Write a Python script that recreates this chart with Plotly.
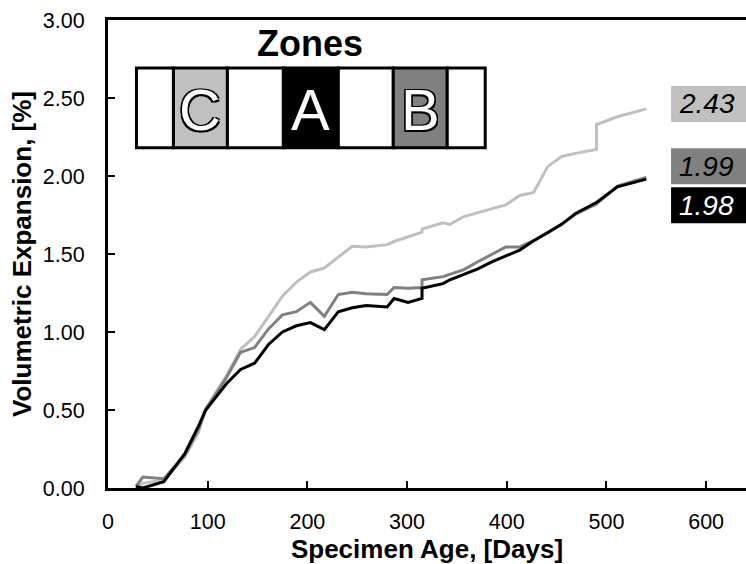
import plotly.graph_objects as go

# Measurement ages (days); repeated ages mark same-day re-measurements
days = [28, 35, 56, 77, 91, 98, 119, 133, 147, 161, 175, 189, 203, 217, 231, 245,
        259, 280, 287, 301, 315, 315, 336, 343, 357, 371, 385, 399, 413, 427, 441,
        455, 469, 490, 490, 511, 540]

# Volumetric expansion (%) per zone
zone_a = [0.01, 0.00, 0.04, 0.22, 0.40, 0.50, 0.67, 0.76, 0.80, 0.92, 1.00, 1.04,
          1.06, 1.015, 1.13, 1.155, 1.17, 1.16, 1.215, 1.19, 1.215, 1.28, 1.31,
          1.335, 1.37, 1.405, 1.45, 1.49, 1.525, 1.585, 1.64, 1.69, 1.76, 1.83,
          1.83, 1.93, 1.98]
zone_b = [0.01, 0.07, 0.06, 0.21, 0.38, 0.50, 0.71, 0.87, 0.90, 1.02, 1.11, 1.13,
          1.19, 1.10, 1.24, 1.255, 1.245, 1.24, 1.285, 1.28, 1.285, 1.335, 1.355,
          1.37, 1.40, 1.45, 1.50, 1.545, 1.545, 1.585, 1.635, 1.69, 1.755, 1.82,
          1.82, 1.935, 1.99]
zone_c = [0.01, 0.03, 0.05, 0.20, 0.36, 0.51, 0.72, 0.89, 0.97, 1.10, 1.23, 1.32,
          1.385, 1.41, 1.48, 1.55, 1.545, 1.56, 1.58, 1.61, 1.64, 1.66, 1.70, 1.69,
          1.74, 1.765, 1.79, 1.815, 1.875, 1.895, 2.06, 2.125, 2.145, 2.17, 2.33,
          2.38, 2.43]

series = [
    ("C", zone_c, "#c0c0c0", "black"),
    ("B", zone_b, "#808080", "black"),
    ("A", zone_a, "#000000", "white"),
]

y_ticks = [0, 0.5, 1.0, 1.5, 2.0, 2.5, 3.0]
y_tick_text = ["0.00", "0.50", "1.00", "1.50", "2.00", "2.50", "3.00"]
x_ticks = [0, 100, 200, 300, 400, 500, 600]

FONT = "Liberation Sans, Arial, sans-serif"
W, H = 746, 564
ML, MR, MT, MB = 107.5, 0, 20, 75.5
PW, PH = W - ML - MR, H - MT - MB


def px(xp):
    return (xp - ML) / PW


def py(yp):
    return (H - MB - yp) / PH


fig = go.Figure()
for name, vals, color, _ in series:
    fig.add_trace(go.Scatter(x=days, y=vals, mode="lines", name=name,
                             line=dict(color=color, width=3), showlegend=False))

shapes = []
annotations = []

# Final-value tags at the right edge
tag_centres = {"C": 104, "B": 166.5, "A": 205.5}
for name, vals, color, txt_color in series:
    yc = tag_centres[name]
    shapes.append(dict(type="rect", xref="paper", yref="paper",
                       x0=px(671), x1=1.0, y0=py(yc + 18), y1=py(yc - 18),
                       fillcolor=color, line=dict(width=0), layer="above"))
    annotations.append(dict(
        x=px(677), y=py(yc), xref="paper", yref="paper",
        xanchor="left", yanchor="middle", text=f"{vals[-1]:.2f}",
        showarrow=False,
        font=dict(family=FONT, size=28, color=txt_color, style="italic"),
    ))

# Zone strip: seven cells, three of them coloured and lettered
cell_edges = [136, 173, 227, 283, 338, 393, 447, 485]
cell_fill = ["white", "#c0c0c0", "white", "black", "white", "#808080", "white"]
cell_label = ["", "C", "", "A", "", "B", ""]
strip_top, strip_bot = 68, 148
for i in range(7):
    shapes.append(dict(type="rect", xref="paper", yref="paper",
                       x0=px(cell_edges[i]), x1=px(cell_edges[i + 1]),
                       y0=py(strip_bot), y1=py(strip_top),
                       fillcolor=cell_fill[i], line=dict(color="black", width=3),
                       layer="above"))
    if cell_label[i]:
        annotations.append(dict(
            x=px((cell_edges[i] + cell_edges[i + 1]) / 2),
            y=py((strip_top + strip_bot) / 2 + 2), xref="paper", yref="paper",
            text=cell_label[i], showarrow=False, xanchor="center", yanchor="middle",
            font=dict(family=FONT, size=58, color="white",
                      shadow="-1.5px -1.5px 0 #000, 1.5px -1.5px 0 #000, "
                             "-1.5px 1.5px 0 #000, 1.5px 1.5px 0 #000"),
        ))
annotations.append(dict(
    x=px(310), y=py(44), xref="paper", yref="paper", text="<b>Zones</b>",
    showarrow=False, xanchor="center", yanchor="middle",
    font=dict(family=FONT, size=36, color="black"),
))

fig.update_layout(
    width=W, height=H,
    margin=dict(l=ML, r=MR, t=MT, b=MB, pad=0),
    paper_bgcolor="white", plot_bgcolor="white",
    font=dict(family=FONT, color="black"),
    shapes=shapes, annotations=annotations,
    xaxis=dict(range=[0, 640], tickvals=x_ticks, ticks="inside", ticklen=7,
               tickwidth=2, tickcolor="black", showline=True, linewidth=3,
               linecolor="black", mirror=True, showgrid=False, zeroline=False,
               tickfont=dict(size=21.5), ticklabelstandoff=12,
               title=dict(text="<b>Specimen Age, [Days]</b>",
                          font=dict(size=26), standoff=3)),
    yaxis=dict(range=[0, 3], tickvals=y_ticks, ticktext=y_tick_text,
               ticks="inside", ticklen=7, tickwidth=2, tickcolor="black",
               showline=True, linewidth=3, linecolor="black", mirror=False,
               showgrid=False, zeroline=False, tickfont=dict(size=21.5),
               ticklabelstandoff=16,
               title=dict(text="<b>Volumetric Expansion, [%]</b>",
                          font=dict(size=26), standoff=4)),
)

fig.write_html("out.html")
